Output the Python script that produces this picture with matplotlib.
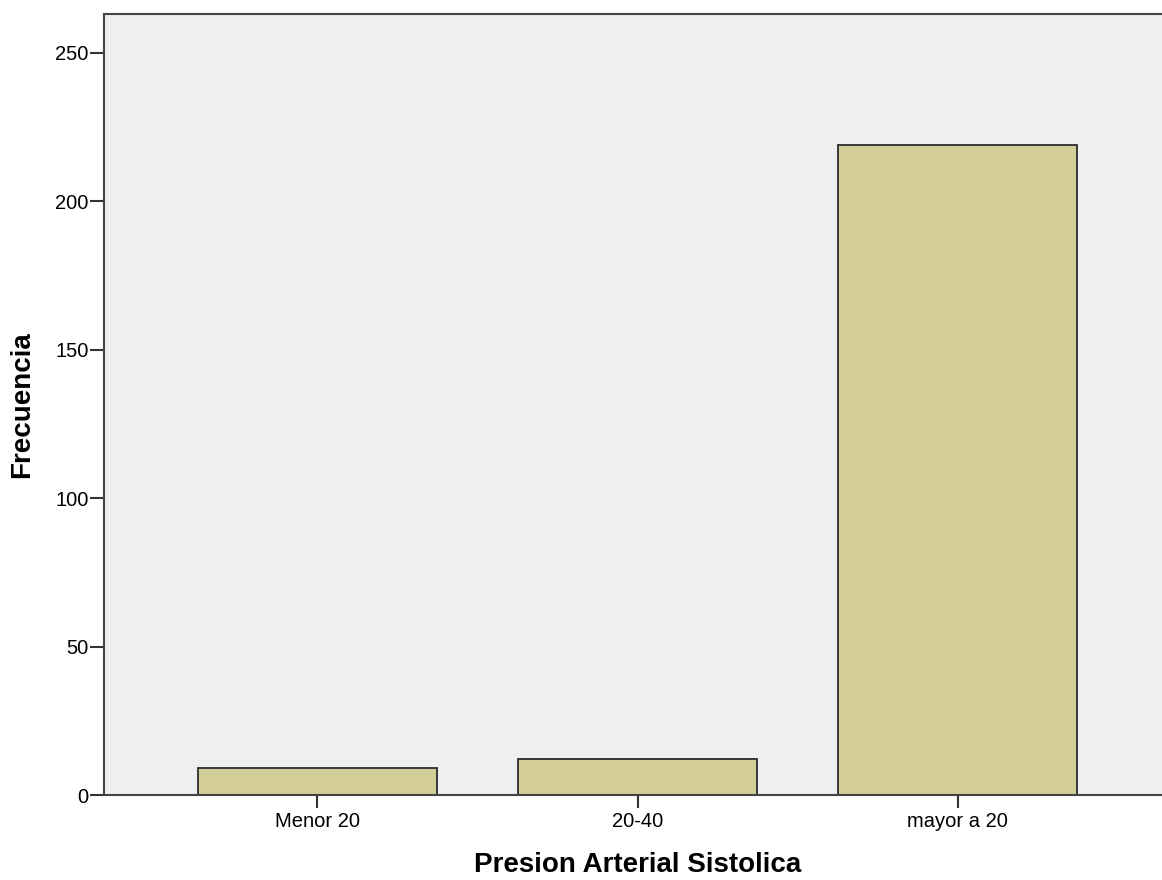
import matplotlib
matplotlib.use("Agg")
import matplotlib.pyplot as plt

# data
categories = ["Menor 20", "20-40", "mayor a 20"]
counts = [9, 12, 219]
yticks = [0, 50, 100, 150, 200, 250]

plt.rcParams['font.family'] = ['Liberation Sans', 'DejaVu Sans']

fig = plt.figure(figsize=(11.62, 8.8), dpi=100)
ax = fig.add_axes([104 / 1162, 1 - 795 / 880, (1171 - 104) / 1162, (795 - 14) / 880])
ax.set_facecolor("#efefef")

x = range(len(categories))
ax.bar(x, counts, width=0.747, color="#d3ce97", edgecolor="#2b2b2b", linewidth=1.3, zorder=2)

ax.set_xlim(-0.667, 2.667)
ax.set_ylim(0, 263)
ax.set_xticks(list(x))
ax.set_xticklabels(categories, fontsize=14.5)
ax.set_yticks(yticks)
ax.set_yticklabels([str(v) for v in yticks], fontsize=14.5)
ax.tick_params(axis="y", direction="out", length=10, width=1.5, pad=1, color="#333333")
ax.tick_params(axis="x", direction="out", length=9, width=1.5, pad=3, color="#333333")

for s in ["left", "top", "bottom", "right"]:
    ax.spines[s].set_linewidth(1.5)
    ax.spines[s].set_color("#444444")

ax.set_ylabel("Frecuencia", fontsize=20, fontweight="bold", va="center")
ax.yaxis.set_label_coords((22 - 104) / 1067, 0.5)
ax.set_xlabel("Presion Arterial Sistolica", fontsize=20, fontweight="bold", va="center")
ax.xaxis.set_label_coords(0.5, (795 - 865) / 781)

fig.savefig("out.png", dpi=100)
